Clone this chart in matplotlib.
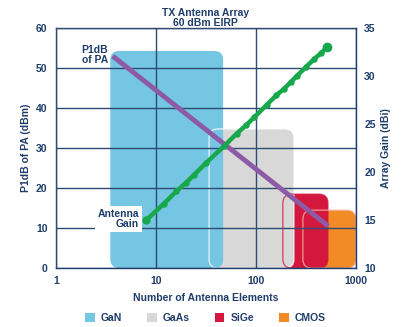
import matplotlib
matplotlib.use("Agg")
import matplotlib.pyplot as plt
from matplotlib.patches import FancyBboxPatch, Patch
from matplotlib.transforms import IdentityTransform

plt.rcParams['font.family'] = ['Liberation Sans', 'DejaVu Sans']
plt.rcParams['font.weight'] = 'bold'
plt.rcParams['axes.labelweight'] = 'bold'

navy = '#1f3d6b'

# technology regions: (name, min elements, max elements, max P1dB)
techs = ['GaN', 'GaAs', 'SiGe', 'CMOS']
tech_lo = [3.5, 34, 186, 295]
tech_hi = [47, 240, 525, 1000]
tech_top = [54.3, 34.8, 18.5, 14.5]
tech_colors = ['#74c6e2', '#d8d8d8', '#d3173d', '#f28b26']

# P1dB of PA line
pa_n = [3.7, 530]
pa_p1db = [53.0, 10.5]

# array gain line (dBi)
gain_n = [8, 12, 16, 20, 24, 32, 48, 64, 80, 96, 128, 160, 192, 224, 256,
          320, 384, 448, 512]
gain_dbi = [15.0, 16.7, 18.0, 18.9, 19.7, 21.0, 22.7, 24.0, 24.9, 25.7, 27.0,
            28.0, 28.7, 29.4, 30.0, 31.0, 31.8, 32.4, 33.0]

fig = plt.figure(figsize=(4.11, 3.27), dpi=100)
ax = fig.add_axes([0.136, 0.180, 0.730, 0.734])
ax.set_xscale('log')
ax.set_xlim(1, 1000)
ax.set_ylim(0, 60)
ax.set_yticks([0, 10, 20, 30, 40, 50, 60])
ax.set_xticks([1, 10, 100, 1000])
ax.set_xticklabels(['1', '10', '100', '1000'])
ax.minorticks_off()
ax.tick_params(length=0, labelsize=7.5, labelcolor=navy, pad=6)
for s in ax.spines.values():
    s.set_color(navy)
    s.set_linewidth(1.0)
ax.grid(True, color='#2f4b72', linewidth=1.0, zorder=2)
ax.set_axisbelow(False)

# rounded boxes in display coords
r = 9
order = [3, 2, 1, 0]
boxes = {}
for i in order:
    x0, y0 = ax.transData.transform((tech_lo[i], 0))
    x1, y1 = ax.transData.transform((tech_hi[i], tech_top[i]))
    boxes[i] = (x0, y0, x1 - x0, y1 - y0)
    p = FancyBboxPatch((x0, y0), x1 - x0, y1 - y0,
                       boxstyle='round,pad=0,rounding_size=%d' % r,
                       transform=IdentityTransform(), facecolor=tech_colors[i],
                       edgecolor='none', zorder=1)
    ax.add_artist(p)
# outlines of the boxes that lie underneath
edge_cols = {1: 'white', 2: tech_colors[2], 3: '#f7b9a8'}
for i in [1, 2, 3]:
    x0, y0, w, h = boxes[i]
    p = FancyBboxPatch((x0, y0), w, h,
                       boxstyle='round,pad=0,rounding_size=%d' % r,
                       transform=IdentityTransform(), facecolor='none',
                       edgecolor=edge_cols[i], linewidth=0.9, zorder=1.5,
                       alpha=0.8)
    ax.add_artist(p)

ax.plot(pa_n, pa_p1db, color='#8d5ba6', linewidth=3.5, zorder=4,
        solid_capstyle='butt')

ax2 = ax.twinx()
ax2.set_ylim(10, 35)
ax2.set_yticks([10, 15, 20, 25, 30, 35])
ax2.tick_params(length=0, labelsize=7.5, labelcolor=navy, pad=6)
for s in ax2.spines.values():
    s.set_visible(False)
ax2.plot(gain_n, gain_dbi, color='#16a84b', linewidth=3.2, marker='o',
         markersize=3.6, zorder=5)
ax2.plot(gain_n[-1], gain_dbi[-1], 'o', color='#16a84b', markersize=6,
         zorder=5)
ax2.plot(gain_n[0], gain_dbi[0], 'o', color='#16a84b', markersize=5,
         zorder=5)

for lab in ax.get_xticklabels() + ax.get_yticklabels() + ax2.get_yticklabels():
    lab.set_fontweight('bold')

ax.set_ylabel('P1dB of PA (dBm)', color=navy, fontsize=7.5, labelpad=4)
ax2.set_ylabel('Array Gain (dBi)', color=navy, fontsize=7.5, labelpad=4)
ax.set_xlabel('Number of Antenna Elements', color=navy, fontsize=7.5,
              labelpad=5)

fig.text(0.501, 0.975, 'TX Antenna Array\n60 dBm EIRP', ha='center',
         va='top', color=navy, fontsize=7.5, linespacing=1.0)

ax2.text(3.35, 32.2, 'P1dB\nof PA', ha='right', va='center', color=navy,
         fontsize=7.5, linespacing=1.0, zorder=6)
ax2.text(6.8, 15.1, 'Antenna\nGain', ha='right', va='center', color=navy,
         fontsize=7.5, linespacing=1.0, zorder=6,
         bbox=dict(facecolor='white', edgecolor='none', pad=2))

handles = [Patch(facecolor=c, edgecolor='none') for c in tech_colors]
leg = fig.legend(handles, techs, loc='center', bbox_to_anchor=(0.5, 0.028),
                 ncol=4, frameon=False, fontsize=7.5, handlelength=0.9,
                 handleheight=0.9, handletextpad=0.6, columnspacing=2.4)
for t in leg.get_texts():
    t.set_color(navy)

fig.savefig('out.png', dpi=100)
